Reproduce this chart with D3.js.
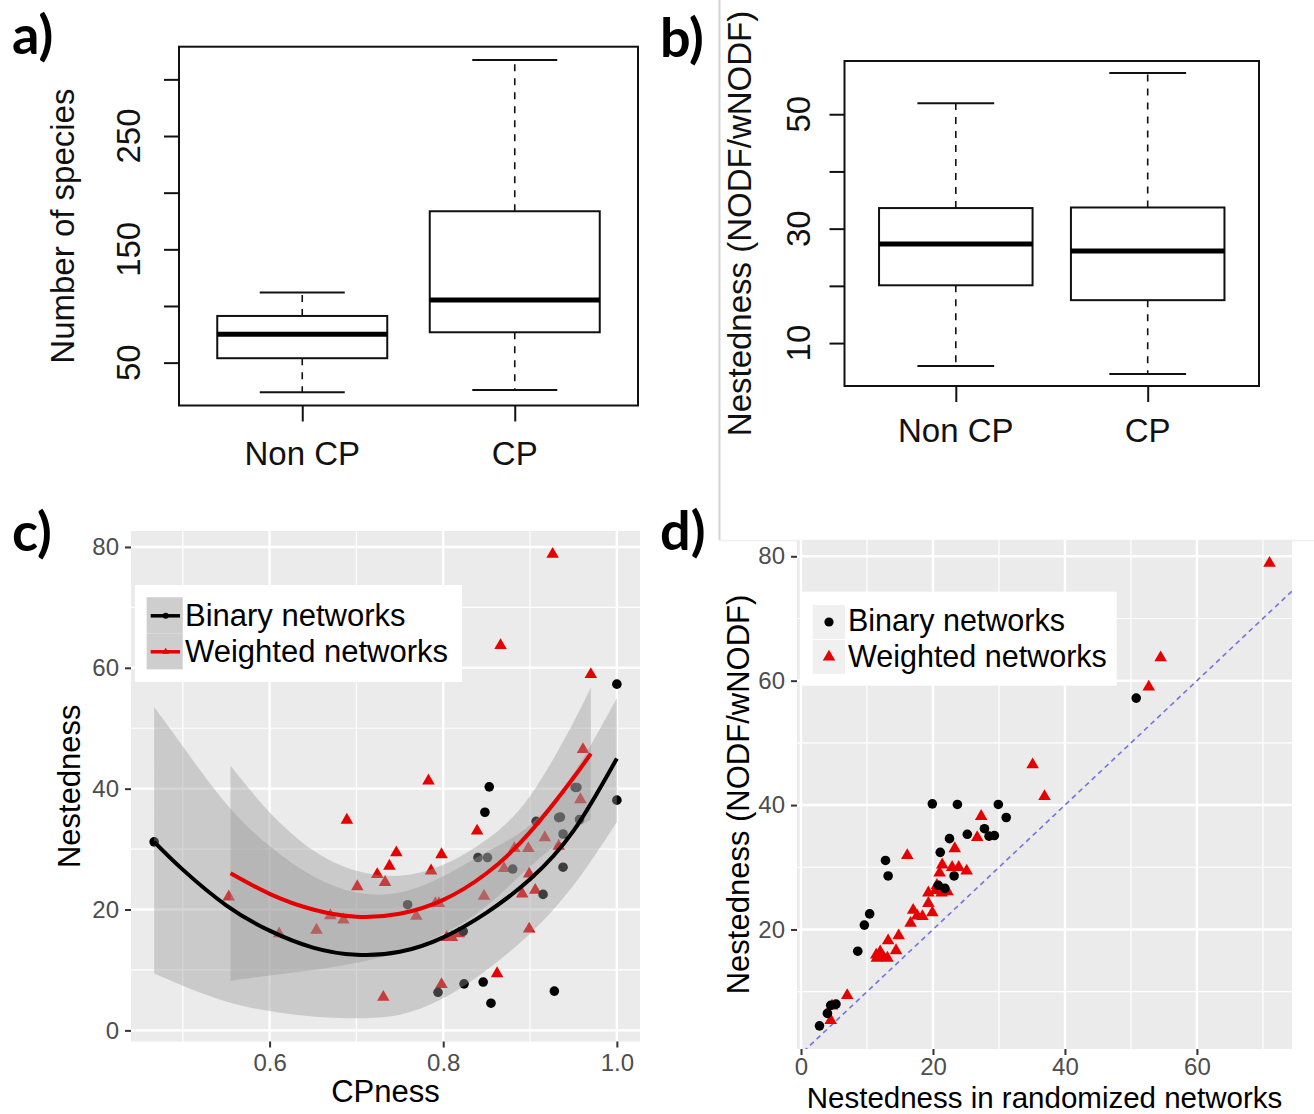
<!DOCTYPE html>
<html>
<head>
<meta charset="utf-8">
<script src="https://cdn.jsdelivr.net/npm/d3@7"></script>
<style>
  body { margin: 0; background: #fff; }
  svg text { font-family: "Liberation Sans", Arial, Helvetica, sans-serif; }
</style>
</head>
<body>
<svg id="fig" width="1314" height="1114"></svg>
<script>
// ---------- data ----------
const groupNames = ["Non CP", "CP"];

// a) number of species (boxplot stats)
const speciesLow  = [23.9, 25.9];
const speciesQ1   = [53.9, 76.8];
const speciesMed  = [75.0, 105.3];
const speciesQ3   = [91.2, 183.6];
const speciesHigh = [111.8, 317.1];
const speciesTicks = [50, 100, 150, 200, 250, 300];
const speciesTickLabels = [50, 150, 250];

// b) nestedness (boxplot stats)
const nestLow  = [6.0, 4.6];
const nestQ1   = [20.1, 17.5];
const nestMed  = [27.3, 26.1];
const nestQ3   = [33.6, 33.7];
const nestHigh = [51.9, 57.2];
const nestTicks = [10, 20, 30, 40, 50];
const nestTickLabels = [10, 30, 50];

// c) nestedness vs CPness
const binCx = [0.467, 1.0, 1.0, 0.853, 0.848, 0.840, 0.851, 0.880, 0.915, 0.938, 0.938, 0.933,
               0.935, 0.952, 0.954, 0.957, 0.907, 0.759, 0.823, 0.794, 0.824, 0.846, 0.855, 0.928];
const binCy = [31.2, 57.3, 38.1, 40.3, 36.1, 28.6, 28.6, 26.7, 22.5, 27.0, 32.5, 35.2,
               35.3, 40.2, 40.2, 34.9, 34.6, 20.8, 16.4, 6.3, 7.7, 8.0, 4.5, 6.5];
const wtdCx = [0.926, 0.866, 0.970, 0.961, 0.783, 0.958, 0.689, 0.839, 0.917, 0.933, 0.898, 0.882, 0.746,
               0.798, 0.738, 0.870, 0.786, 0.899, 0.724, 0.733, 0.701, 0.906, 0.891, 0.847, 0.553, 0.791,
               0.795, 0.670, 0.769, 0.685, 0.899, 0.654, 0.818, 0.611, 0.804, 0.810, 0.862, 0.798, 0.731];
const wtdCy = [78.8, 63.7, 58.9, 46.5, 41.3, 38.2, 34.8, 33.0, 31.9, 30.5, 30.1, 30.1, 29.4,
               29.1, 27.2, 26.8, 26.4, 25.9, 25.8, 24.5, 23.8, 23.2, 22.6, 22.2, 22.1, 21.0,
               21.0, 19.0, 18.9, 18.3, 16.8, 16.6, 16.0, 16.0, 15.4, 15.4, 9.4, 7.6, 5.5];

// smoothers in c)
const binFitX  = [0.467, 0.50, 0.55, 0.60, 0.65, 0.70, 0.75, 0.80, 0.85, 0.90, 0.95, 1.00];
const binFit   = [31.2, 26.6, 20.7, 16.5, 13.7, 12.5, 13.0, 15.4, 19.5, 25.0, 33.0, 45.0];
const binLower = [9.4, 7.4, 4.8, 3.2, 2.3, 2.0, 2.6, 5.3, 10.0, 16.0, 24.0, 34.5];
const binUpper = [53.5, 47.0, 37.5, 30.5, 25.5, 22.8, 22.8, 25.5, 29.5, 34.0, 42.5, 55.0];
const wtdFitX  = [0.555, 0.60, 0.65, 0.70, 0.75, 0.80, 0.85, 0.90, 0.95, 0.97];
const wtdFit   = [26.0, 22.6, 20.0, 18.8, 19.3, 21.6, 26.0, 32.8, 41.8, 45.8];
const wtdLower = [8.2, 9.1, 10.0, 11.2, 13.0, 16.0, 20.6, 27.1, 33.0, 34.8];
const wtdUpper = [43.8, 36.1, 29.8, 26.4, 25.6, 27.4, 31.6, 38.8, 51.0, 56.8];

// d) observed vs randomized nestedness
const binDx = [50.8, 19.9, 23.7, 29.9, 31.1, 27.8, 28.5, 29.3, 25.2, 22.5, 21.1, 12.8,
               13.2, 23.2, 20.8, 21.8, 10.4, 9.6, 8.6, 5.3, 4.5, 4.0, 2.8];
const binDy = [57.2, 40.2, 40.1, 40.1, 38.0, 36.2, 35.0, 35.1, 35.3, 34.6, 32.4, 31.1,
               28.6, 28.6, 27.1, 26.6, 22.5, 20.7, 16.5, 8.0, 7.8, 6.5, 4.5];
const wtdDx = [71.0, 54.5, 52.7, 35.1, 36.9, 27.3, 26.7, 23.3, 16.1, 21.4, 22.9, 23.9, 25.1,
               21.0, 20.6, 21.3, 22.2, 20.4, 19.3, 19.3, 19.9, 17.0, 17.6, 18.4, 16.6, 14.8,
               13.2, 14.4, 11.4, 12.0, 12.5, 13.1, 11.5, 7.0, 4.5, 4.7];
const wtdDy = [78.9, 63.7, 59.0, 46.5, 41.4, 38.2, 34.8, 33.0, 31.9, 30.4, 30.0, 30.0, 29.4,
               29.1, 27.1, 25.9, 26.1, 26.3, 25.9, 24.2, 22.7, 23.1, 22.2, 22.1, 21.0, 19.0,
               18.2, 16.6, 15.9, 16.4, 15.5, 15.4, 15.4, 9.4, 5.4, 7.7];

const cTicksX = [0.6, 0.8, 1.0], cMinorX = [0.5, 0.7, 0.9];
const cTicksY = [0, 20, 40, 60, 80], cMinorY = [10, 30, 50, 70];
const dTicksX = [0, 20, 40, 60], dMinorX = [10, 30, 50, 70];
const dTicksY = [20, 40, 60, 80], dMinorY = [10, 30, 50, 70];
const legendNames = ["Binary networks", "Weighted networks"];

// ---------- drawing ----------
const svg = d3.select("#fig");
const RED = "#e60000";

// divider lines between panels
svg.append("line").attr("x1", 719.5).attr("x2", 719.5).attr("y1", 0).attr("y2", 540)
  .attr("stroke", "#d4d4d4").attr("stroke-width", 2);
svg.append("line").attr("x1", 719).attr("x2", 1314).attr("y1", 540.5).attr("y2", 540.5)
  .attr("stroke", "#efefef").attr("stroke-width", 1.5);

function boxPanel(box, low, q1, med, q3, high, ticks, tickLabels, yTitle, lay) {
  const g = svg.append("g");
  const lo = d3.min(low), hi = d3.max(high), pad = (hi - lo) * 0.04;
  const y = d3.scaleLinear().domain([lo - pad, hi + pad]).range([box.y1, box.y0]);
  const x = d3.scaleLinear().domain([0.42, 2.58]).range([box.x0, box.x1]);
  const stats = groupNames.map((name, i) => ({ name, i, low: low[i], q1: q1[i], med: med[i], q3: q3[i], high: high[i] }));
  const hw = x(1.4) - x(1), cw = hw / 2;

  const grp = g.selectAll("g.box").data(stats).join("g").attr("class", "box");
  // dashed whiskers
  grp.append("line").attr("x1", d => x(d.i + 1)).attr("x2", d => x(d.i + 1))
    .attr("y1", d => y(d.q3)).attr("y2", d => y(d.high))
    .attr("stroke", "#111").attr("stroke-width", 1.6).attr("stroke-dasharray", "7,7");
  grp.append("line").attr("x1", d => x(d.i + 1)).attr("x2", d => x(d.i + 1))
    .attr("y1", d => y(d.q1)).attr("y2", d => y(d.low))
    .attr("stroke", "#111").attr("stroke-width", 1.6).attr("stroke-dasharray", "7,7");
  // caps
  ["low", "high"].forEach(k => {
    grp.append("line").attr("x1", d => x(d.i + 1) - cw).attr("x2", d => x(d.i + 1) + cw)
      .attr("y1", d => y(d[k])).attr("y2", d => y(d[k]))
      .attr("stroke", "#111").attr("stroke-width", 2);
  });
  grp.append("rect").attr("x", d => x(d.i + 1) - hw).attr("width", 2 * hw)
    .attr("y", d => y(d.q3)).attr("height", d => y(d.q1) - y(d.q3))
    .attr("fill", "#fff").attr("stroke", "#111").attr("stroke-width", 2);
  grp.append("line").attr("x1", d => x(d.i + 1) - hw).attr("x2", d => x(d.i + 1) + hw)
    .attr("y1", d => y(d.med)).attr("y2", d => y(d.med))
    .attr("stroke", "#000").attr("stroke-width", 5);

  // frame
  g.append("rect").attr("x", box.x0).attr("y", box.y0)
    .attr("width", box.x1 - box.x0).attr("height", box.y1 - box.y0)
    .attr("fill", "none").attr("stroke", "#111").attr("stroke-width", 2);

  // axes
  const ay = g.append("g").attr("transform", `translate(${box.x0},0)`)
    .call(d3.axisLeft(y).tickValues(ticks).tickSize(15).tickFormat(""));
  ay.select(".domain").remove();
  ay.selectAll(".tick line").attr("stroke", "#111").attr("stroke-width", 2);
  const ax = g.append("g").attr("transform", `translate(0,${box.y1})`)
    .call(d3.axisBottom(x).tickValues([1, 2]).tickSize(16).tickFormat(""));
  ax.select(".domain").remove();
  ax.selectAll(".tick line").attr("stroke", "#111").attr("stroke-width", 2);

  g.selectAll("text.tl").data(tickLabels).join("text").attr("class", "tl")
    .attr("transform", d => `translate(${lay.tickLabelX},${y(d)}) rotate(-90)`)
    .attr("text-anchor", "middle").attr("font-size", 33).attr("fill", "#111").text(d => d);
  g.selectAll("text.gl").data(stats).join("text").attr("class", "gl")
    .attr("x", d => x(d.i + 1)).attr("y", lay.groupLabelY)
    .attr("text-anchor", "middle").attr("font-size", 33).attr("fill", "#111").text(d => d.name);
  g.append("text")
    .attr("transform", `translate(${lay.titleX},${(box.y0 + box.y1) / 2}) rotate(-90)`)
    .attr("text-anchor", "middle").attr("font-size", 33).attr("fill", "#111").text(yTitle);
}

boxPanel({ x0: 179, x1: 638, y0: 46.7, y1: 405.5 },
  speciesLow, speciesQ1, speciesMed, speciesQ3, speciesHigh, speciesTicks, speciesTickLabels,
  "Number of species", { tickLabelX: 140, groupLabelY: 465, titleX: 74 });
boxPanel({ x0: 844.5, x1: 1259, y0: 61, y1: 386 },
  nestLow, nestQ1, nestMed, nestQ3, nestHigh, nestTicks, nestTickLabels,
  "Nestedness (NODF/wNODF)", { tickLabelX: 810, groupLabelY: 442, titleX: 751 });

// ggplot-like panel
function ggPanel(id, box, xVals, yVals, majX, minX, majY, minY, fmtX, xTitle, yTitle, opt) {
  const g = svg.append("g");
  const ex = d3.extent(xVals), ey = d3.extent(yVals);
  const px = (ex[1] - ex[0]) * 0.05, py = (ey[1] - ey[0]) * 0.05;
  const x = d3.scaleLinear().domain([ex[0] - px, ex[1] + px]).range([box.x0, box.x1]);
  const y = d3.scaleLinear().domain([ey[0] - py, ey[1] + py]).range([box.y1, box.y0]);

  g.append("rect").attr("x", box.x0).attr("y", box.y0)
    .attr("width", box.x1 - box.x0).attr("height", box.y1 - box.y0).attr("fill", "#ebebeb");
  g.selectAll("line.minx").data(minX).join("line").attr("class", "minx")
    .attr("x1", d => x(d)).attr("x2", d => x(d)).attr("y1", box.y0).attr("y2", box.y1)
    .attr("stroke", "#fff").attr("stroke-width", 1.2);
  g.selectAll("line.miny").data(minY).join("line").attr("class", "miny")
    .attr("y1", d => y(d)).attr("y2", d => y(d)).attr("x1", box.x0).attr("x2", box.x1)
    .attr("stroke", "#fff").attr("stroke-width", 1.2);
  g.selectAll("line.majx").data(majX).join("line").attr("class", "majx")
    .attr("x1", d => x(d)).attr("x2", d => x(d)).attr("y1", box.y0).attr("y2", box.y1)
    .attr("stroke", "#fff").attr("stroke-width", 2.4);
  g.selectAll("line.majy").data(majY).join("line").attr("class", "majy")
    .attr("y1", d => y(d)).attr("y2", d => y(d)).attr("x1", box.x0).attr("x2", box.x1)
    .attr("stroke", "#fff").attr("stroke-width", 2.4);

  const ay = g.append("g").attr("transform", `translate(${box.x0},0)`)
    .call(d3.axisLeft(y).tickValues(majY).tickSize(6).tickPadding(6));
  const axb = g.append("g").attr("transform", `translate(0,${box.y1})`)
    .call(d3.axisBottom(x).tickValues(majX).tickSize(6).tickPadding(opt.xPad).tickFormat(fmtX));
  [ay, axb].forEach(a => {
    a.select(".domain").remove();
    a.selectAll(".tick line").attr("stroke", "#333").attr("stroke-width", 2);
    a.selectAll(".tick text").attr("fill", "#4d4d4d").attr("font-size", 24)
      .attr("font-family", "'Liberation Sans', Arial, sans-serif");
  });

  g.append("text").attr("x", (box.x0 + box.x1) / 2).attr("y", opt.xTitleY)
    .attr("text-anchor", "middle").attr("font-size", opt.xTitleSize).attr("fill", "#000").text(xTitle);
  g.append("text")
    .attr("transform", `translate(${opt.yTitleX},${(box.y0 + box.y1) / 2}) rotate(-90)`)
    .attr("text-anchor", "middle").attr("font-size", 31).attr("fill", "#000").text(yTitle);

  svg.append("clipPath").attr("id", id).append("rect")
    .attr("x", box.x0).attr("y", box.y0).attr("width", box.x1 - box.x0).attr("height", box.y1 - box.y0);
  const inner = g.append("g").attr("clip-path", `url(#${id})`);
  return { g, inner, x, y };
}

const tri = d3.symbol().type(d3.symbolTriangle).size(68);

// ---- panel c ----
const pc = ggPanel("clipC", { x0: 131, x1: 640, y0: 531, y1: 1041.5 },
  binCx.concat(wtdCx, binFitX, wtdFitX),
  binCy.concat(wtdCy, binLower, binUpper, wtdLower, wtdUpper),
  cTicksX, cMinorX, cTicksY, cMinorY, d3.format(".1f"), "CPness", "Nestedness",
  { xPad: 6, xTitleY: 1102, xTitleSize: 31, yTitleX: 80 });

pc.inner.selectAll("path.wt").data(wtdCx).join("path").attr("class", "wt")
  .attr("transform", (d, i) => `translate(${pc.x(d)},${pc.y(wtdCy[i])})`)
  .attr("d", tri).attr("fill", RED);
pc.inner.selectAll("circle.bn").data(binCx).join("circle").attr("class", "bn")
  .attr("cx", d => pc.x(d)).attr("cy", (d, i) => pc.y(binCy[i])).attr("r", 4.8).attr("fill", "#000");

const ribbon = (xs, lo, hi) => d3.area().curve(d3.curveNatural)
  .x((d, i) => pc.x(xs[i])).y0((d, i) => pc.y(lo[i])).y1((d, i) => pc.y(hi[i]))(xs);
const fitLine = (xs, ys) => d3.line().curve(d3.curveNatural)
  .x((d, i) => pc.x(xs[i])).y((d, i) => pc.y(ys[i]))(xs);

pc.inner.append("path").attr("d", ribbon(binFitX, binLower, binUpper)).attr("fill", "#999").attr("fill-opacity", 0.4);
pc.inner.append("path").attr("d", ribbon(wtdFitX, wtdLower, wtdUpper)).attr("fill", "#999").attr("fill-opacity", 0.4);
pc.inner.append("path").attr("d", fitLine(binFitX, binFit)).attr("fill", "none")
  .attr("stroke", "#000").attr("stroke-width", 4);
pc.inner.append("path").attr("d", fitLine(wtdFitX, wtdFit)).attr("fill", "none")
  .attr("stroke", RED).attr("stroke-width", 4);

// legend c
const lc = svg.append("g");
lc.append("rect").attr("x", 135).attr("y", 585).attr("width", 327).attr("height", 97).attr("fill", "#fff");
legendNames.forEach((name, i) => {
  const ky = 597.3 + i * 36;
  lc.append("rect").attr("x", 146.7).attr("y", ky).attr("width", 36).attr("height", 36).attr("fill", "#f2f2f2");
  lc.append("rect").attr("x", 146.7).attr("y", ky).attr("width", 36).attr("height", 36)
    .attr("fill", "#999").attr("fill-opacity", 0.4);
  const col = i === 0 ? "#000" : RED;
  lc.append("line").attr("x1", 150.7).attr("x2", 180).attr("y1", ky + 18.5).attr("y2", ky + 18.5)
    .attr("stroke", col).attr("stroke-width", 3.5);
  if (i === 0) lc.append("circle").attr("cx", 165.7).attr("cy", ky + 18.5).attr("r", 3).attr("fill", col);
  else lc.append("path").attr("transform", `translate(165.7,${ky + 18.5})`)
    .attr("d", d3.symbol().type(d3.symbolTriangle).size(22)).attr("fill", col);
  lc.append("text").attr("x", 185).attr("y", 626 + i * 36.3).attr("font-size", 31).attr("fill", "#000").text(name);
});

// ---- panel d ----
const pd = ggPanel("clipD", { x0: 797, x1: 1292, y0: 540, y1: 1049 },
  binDx.concat(wtdDx), binDy.concat(wtdDy),
  dTicksX, dMinorX, dTicksY, dMinorY, d3.format("d"),
  "Nestedness in randomized networks", "Nestedness (NODF/wNODF)",
  { xPad: 3, xTitleY: 1107.5, xTitleSize: 29.5, yTitleX: 749 });

const dDom = pd.x.domain();
pd.inner.append("line").attr("x1", pd.x(dDom[0])).attr("y1", pd.y(dDom[0]))
  .attr("x2", pd.x(dDom[1])).attr("y2", pd.y(dDom[1]))
  .attr("stroke", "#7272e2").attr("stroke-width", 1.6).attr("stroke-dasharray", "5,4");
pd.inner.selectAll("path.wt").data(wtdDx).join("path").attr("class", "wt")
  .attr("transform", (d, i) => `translate(${pd.x(d)},${pd.y(wtdDy[i])})`)
  .attr("d", tri).attr("fill", RED);
pd.inner.selectAll("circle.bn").data(binDx).join("circle").attr("class", "bn")
  .attr("cx", d => pd.x(d)).attr("cy", (d, i) => pd.y(binDy[i])).attr("r", 4.8).attr("fill", "#000");

// legend d
const ld = svg.append("g");
ld.append("rect").attr("x", 801.7).attr("y", 591.7).attr("width", 315).attr("height", 94).attr("fill", "#fff");
legendNames.forEach((name, i) => {
  const ky = 605 + i * 35;
  ld.append("rect").attr("x", 812.7).attr("y", ky).attr("width", 32.3).attr("height", 34).attr("fill", "#f0f0f0");
  if (i === 0) ld.append("circle").attr("cx", 829).attr("cy", ky + 17).attr("r", 4.6).attr("fill", "#000");
  else ld.append("path").attr("transform", `translate(829,${ky + 17})`).attr("d", tri).attr("fill", RED);
  ld.append("text").attr("x", 848).attr("y", 630.7 + i * 36).attr("font-size", 30.5).attr("fill", "#000").text(name);
});

// panel letters
const letters = [["a)", 12, 54], ["b)", 660, 57], ["c)", 12, 551], ["d)", 660, 550]];
svg.selectAll("text.letter").data(letters).join("text").attr("class", "letter")
  .attr("x", d => d[1]).attr("y", d => d[2]).text(d => d[0])
  .attr("font-size", 54).attr("font-weight", 700).attr("fill", "#000")
  .style("font-family", "Lato, 'Open Sans', sans-serif");
</script>
</body>
</html>
